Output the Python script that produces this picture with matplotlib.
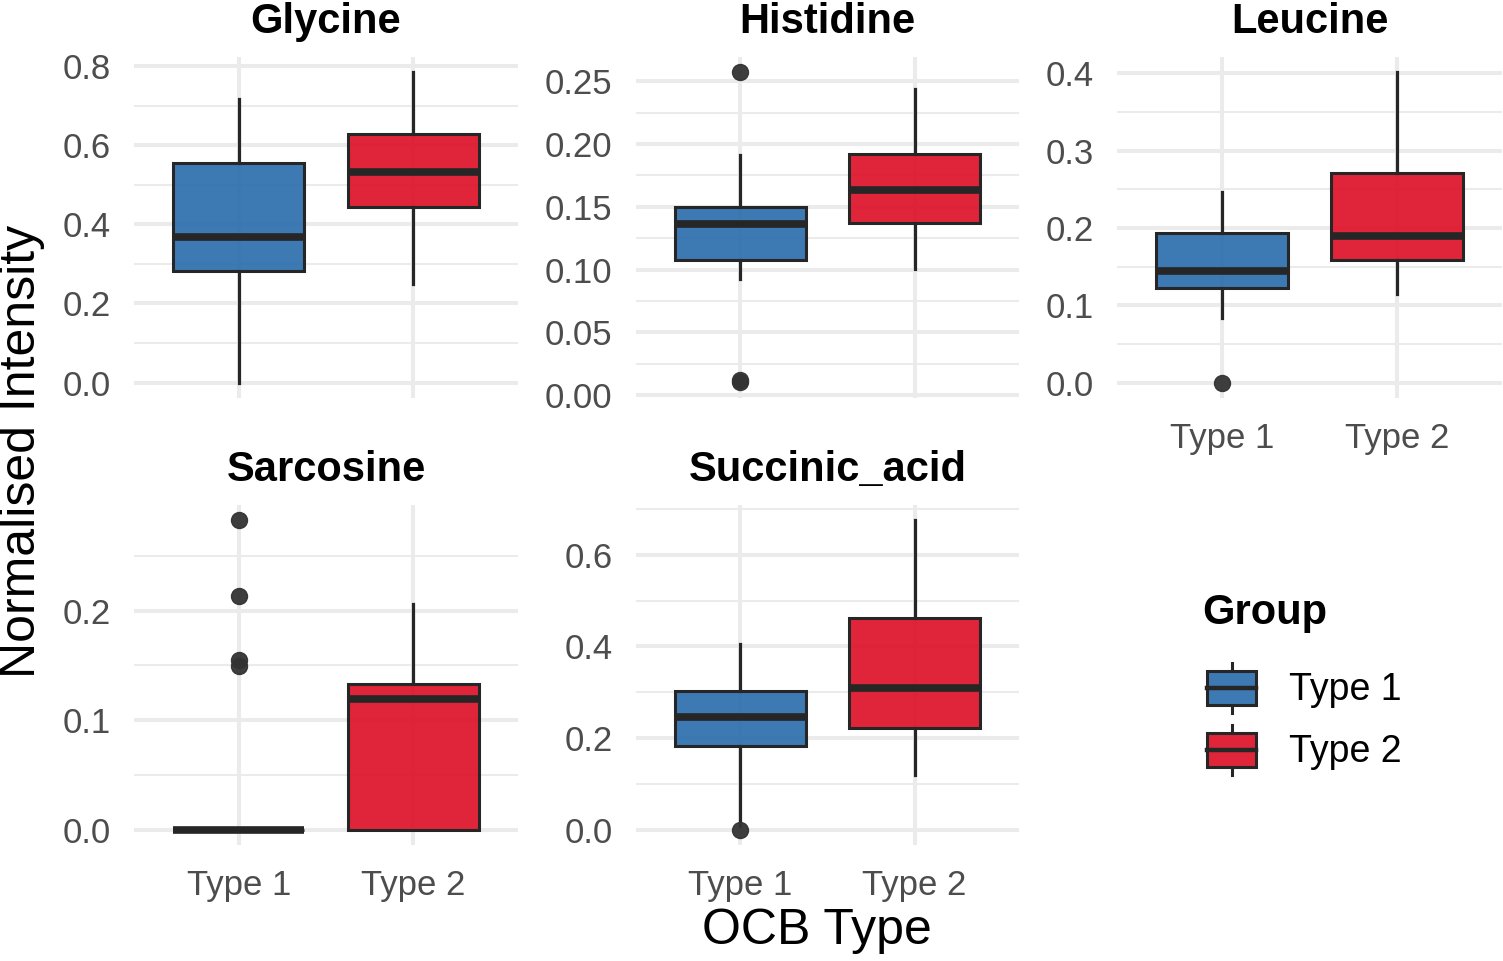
import matplotlib
matplotlib.use('Agg')
import matplotlib.pyplot as plt
from matplotlib.patches import Rectangle, Patch
from matplotlib.lines import Line2D
from matplotlib.legend_handler import HandlerBase
import numpy as np

plt.rcParams['font.family'] = ['Liberation Sans', 'DejaVu Sans']

# ---------------- data ----------------
groups = ['Type 1', 'Type 2']
metabolites = ['Glycine', 'Histidine', 'Leucine', 'Sarcosine', 'Succinic_acid']

# values per metabolite: [Type 1, Type 2]
whisker_low = {
    'Glycine': [0.000, 0.250],
    'Histidine': [0.0923, 0.1003],
    'Leucine': [0.0835, 0.1147],
    'Sarcosine': [0.000, 0.000],
    'Succinic_acid': [0.008, 0.1197],
}
q1 = {
    'Glycine': [0.282, 0.445],
    'Histidine': [0.1077, 0.1370],
    'Leucine': [0.1225, 0.1580],
    'Sarcosine': [0.000, 0.000],
    'Succinic_acid': [0.183, 0.2214],
}
medians = {
    'Glycine': [0.367, 0.533],
    'Histidine': [0.1365, 0.1630],
    'Leucine': [0.1440, 0.1900],
    'Sarcosine': [0.000, 0.1190],
    'Succinic_acid': [0.2467, 0.3084],
}
q3 = {
    'Glycine': [0.554, 0.629],
    'Histidine': [0.1498, 0.1923],
    'Leucine': [0.1938, 0.2707],
    'Sarcosine': [0.000, 0.1333],
    'Succinic_acid': [0.3026, 0.4620],
}
whisker_high = {
    'Glycine': [0.716, 0.784],
    'Histidine': [0.1915, 0.2440],
    'Leucine': [0.2467, 0.4010],
    'Sarcosine': [0.000, 0.2060],
    'Succinic_acid': [0.4050, 0.6750],
}
outliers = {
    'Glycine': [[], []],
    'Histidine': [[0.2570, 0.0100, 0.0120], []],
    'Leucine': [[0.000], []],
    'Sarcosine': [[0.2824, 0.2136, 0.1545, 0.1490], []],
    'Succinic_acid': [[0.000], []],
}
y_major_ticks = {
    'Glycine': [0.0, 0.2, 0.4, 0.6, 0.8],
    'Histidine': [0.00, 0.05, 0.10, 0.15, 0.20, 0.25],
    'Leucine': [0.0, 0.1, 0.2, 0.3, 0.4],
    'Sarcosine': [0.0, 0.1, 0.2],
    'Succinic_acid': [0.0, 0.2, 0.4, 0.6],
}
y_tick_labels = {
    'Glycine': ['0.0', '0.2', '0.4', '0.6', '0.8'],
    'Histidine': ['0.00', '0.05', '0.10', '0.15', '0.20', '0.25'],
    'Leucine': ['0.0', '0.1', '0.2', '0.3', '0.4'],
    'Sarcosine': ['0.0', '0.1', '0.2'],
    'Succinic_acid': ['0.0', '0.2', '0.4', '0.6'],
}
fill_colors = ['#2E6FAD', '#DE142B']
FILL_ALPHA = 0.93

# ---------------- layout ----------------
W, H = 1503, 961
fig = plt.figure(figsize=(W / 100, H / 100), dpi=100)

# panel rectangles in pixels: x0, x1, ytop, ybottom
panel_px = {
    'Glycine': (134, 518, 57, 398),
    'Histidine': (636, 1019, 57, 398),
    'Leucine': (1117, 1502, 57, 398),
    'Sarcosine': (134, 518, 505, 845),
    'Succinic_acid': (636, 1019, 505, 845),
}
show_x_labels = {'Glycine': False, 'Histidine': False, 'Leucine': True,
                 'Sarcosine': True, 'Succinic_acid': True}

EDGE = '#262626'
GRID = '#EBEBEB'
TICK_COL = '#4D4D4D'

for m in metabolites:
    x0, x1, yt, yb = panel_px[m]
    ax = fig.add_axes([x0 / W, 1 - yb / H, (x1 - x0) / W, (yb - yt) / H])
    stats = []
    for i, g in enumerate(groups):
        stats.append(dict(med=medians[m][i], q1=q1[m][i], q3=q3[m][i],
                          whislo=whisker_low[m][i], whishi=whisker_high[m][i],
                          fliers=outliers[m][i], label=g))
    bp = ax.bxp(stats, positions=[1, 2], widths=0.75, patch_artist=True,
                showcaps=False,
                boxprops=dict(edgecolor=EDGE, linewidth=2.2),
                medianprops=dict(color=EDGE, linewidth=5.5, solid_capstyle='butt'),
                whiskerprops=dict(color=EDGE, linewidth=2.3),
                flierprops=dict(marker='o', markerfacecolor='#333333',
                                markeredgecolor='#333333', markersize=11.5,
                                alpha=0.95))
    for patch, c in zip(bp['boxes'], fill_colors):
        patch.set_facecolor(matplotlib.colors.to_rgba(c, FILL_ALPHA))
    for k in ('boxes', 'medians', 'whiskers', 'fliers'):
        for a in bp[k]:
            a.set_zorder(3)

    # y limits with 5% expansion
    allv = whisker_low[m] + whisker_high[m] + [v for o in outliers[m] for v in o]
    lo, hi = min(allv), max(allv)
    pad = (hi - lo) * 0.05
    ax.set_ylim(lo - pad, hi + pad)
    ax.set_xlim(0.4, 2.6)

    major = y_major_ticks[m]
    step = major[1] - major[0]
    minors = [v for v in np.arange(major[0] - step / 2, hi + pad, step)
              if lo - pad <= v <= hi + pad]
    ax.set_yticks(major)
    ax.set_yticklabels(y_tick_labels[m])
    ax.set_yticks(minors, minor=True)
    ax.set_xticks([1, 2])
    if show_x_labels[m]:
        ax.set_xticklabels(groups)
    else:
        ax.set_xticklabels(['', ''])

    ax.grid(which='major', color=GRID, linewidth=2.9, zorder=0)
    ax.grid(which='minor', axis='y', color=GRID, linewidth=1.5, zorder=0)
    ax.set_axisbelow(True)
    for s in ax.spines.values():
        s.set_visible(False)
    ax.tick_params(axis='both', which='both', length=0, labelsize=25,
                   labelcolor=TICK_COL)
    ax.tick_params(axis='y', pad=17)
    ax.tick_params(axis='x', pad=17)
    ax.set_title(m, fontsize=30, fontweight='bold', pad=17, color='black')

fig.text(22 / W, 1 - 451 / H, 'Normalised Intensity', rotation=90,
         ha='center', va='center', fontsize=36)
fig.text(817 / W, 1 - 931 / H, 'OCB Type', ha='center', va='center',
         fontsize=36)


class BoxHandler(HandlerBase):
    def create_artists(self, legend, orig_handle, xdescent, ydescent,
                       width, height, fontsize, trans):
        fc = orig_handle.get_facecolor()
        bh = height * 0.68
        y0 = -ydescent + (height - bh) / 2
        rect = Rectangle((-xdescent, y0), width, bh, facecolor=fc,
                         edgecolor=EDGE, linewidth=2.2, transform=trans)
        ym = -ydescent + height / 2
        xc = -xdescent + width / 2
        med = Line2D([-xdescent, -xdescent + width], [ym, ym], color=EDGE,
                     linewidth=3.2, transform=trans)
        w1 = Line2D([xc, xc], [-ydescent, y0], color=EDGE, linewidth=2.2,
                    transform=trans)
        w2 = Line2D([xc, xc], [y0 + bh, -ydescent + height], color=EDGE,
                    linewidth=2.2, transform=trans)
        return [w1, w2, rect, med]


fig.text(1202 / W, 1 - 613 / H, 'Group', ha='left', va='center',
         fontsize=30, fontweight='bold')
handles = [Patch(facecolor=matplotlib.colors.to_rgba(c, FILL_ALPHA)) for c in fill_colors]
leg = fig.legend(handles, groups, handler_map={Patch: BoxHandler()},
                 loc='upper left', bbox_to_anchor=(1207 / W, 1 - 663 / H),
                 frameon=False, fontsize=27, handlelength=1.31, handleheight=1.674,
                 labelspacing=0.32, handletextpad=0.88, borderpad=0,
                 borderaxespad=0)

fig.savefig('out.png', dpi=100)
